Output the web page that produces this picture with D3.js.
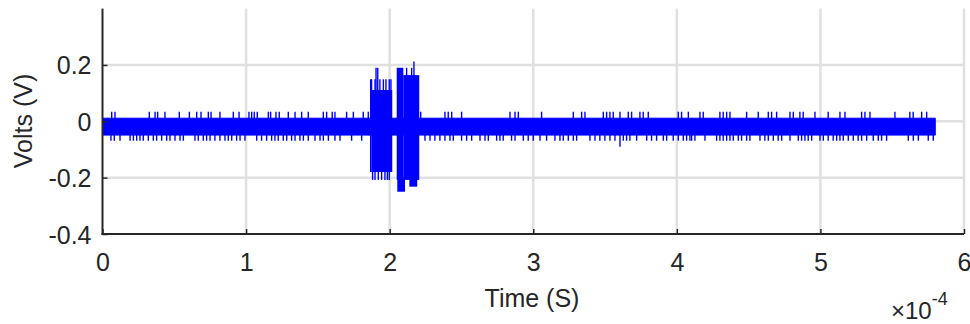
<!DOCTYPE html>
<html>
<head>
<meta charset="utf-8">
<script src="https://cdn.jsdelivr.net/npm/d3@7"></script>
<style>
  html, body { margin: 0; padding: 0; background: #fff; }
  svg { display: block; }
  text { font-family: "Liberation Sans", Arial, Helvetica, sans-serif; fill: #262626; }
</style>
</head>
<body>
<svg id="chart" width="970" height="324"></svg>
<script>
// ---- Data (time in units of 1e-4 s, voltage in V) ----
const xTicks = [0, 1, 2, 3, 4, 5, 6];
const yTicks = [-0.4, -0.2, 0, 0.2];
const yTickLabels = ["-0.4", "-0.2", "0", "0.2"];
const xLabel = "Time (S)";
const yLabel = "Volts (V)";

// steady noise band
const baseT  = [0, 5.80];
const baseLo = [-0.049, -0.049];
const baseHi = [0.011, 0.011];

// burst envelope segments: start, end, min, max
const burstT0 = [1.863, 1.875, 2.049, 2.095, 2.053, 2.137];
const burstT1 = [1.875, 2.018, 2.095, 2.206, 2.107, 2.192];
const burstLo = [-0.180, -0.180, -0.208, -0.208, -0.250, -0.232];
const burstHi = [0.149, 0.111, 0.190, 0.164, -0.200, -0.200];

// upward spikes of the noise band
const upSpikeT = [0.064, 0.087, 0.326, 0.366, 0.384, 0.435, 0.535, 0.605, 0.656, 0.686, 0.737, 0.756,
  0.818, 0.911, 0.951, 1.020, 1.039, 1.057, 1.078, 1.155, 1.171, 1.208, 1.231, 1.294, 1.341, 1.387,
  1.433, 1.538, 1.561, 1.600, 1.619, 1.700, 1.747, 1.816, 1.851,
  2.216, 2.385, 2.408, 2.432, 2.501, 2.838, 2.873, 2.896, 3.058, 3.279, 3.337, 3.360, 3.488, 3.511,
  3.534, 3.557, 3.604, 3.662, 3.685, 3.743, 3.766, 3.801, 4.010, 4.033, 4.080, 4.161, 4.184, 4.300,
  4.323, 4.347, 4.370, 4.486, 4.567, 4.637, 4.660, 4.695, 4.788, 4.811, 4.857, 4.880, 4.962, 5.054,
  5.136, 5.171, 5.287, 5.310, 5.345, 5.519, 5.623, 5.646, 5.705, 5.740];
const upSpikeV = 0.034;

// downward spikes of the noise band
const downSpikeT = [0.059, 0.082, 0.122, 0.192, 0.215, 0.238, 0.261, 0.284, 0.319, 0.354, 0.377, 0.412,
  0.447, 0.470, 0.505, 0.540, 0.563, 0.644, 0.667, 0.702, 0.725, 0.749, 0.783, 0.818, 0.853, 0.876,
  0.900, 0.934, 0.958, 0.992, 1.074, 1.108, 1.143, 1.178, 1.201, 1.224, 1.259, 1.283, 1.317, 1.341,
  1.375, 1.399, 1.433, 1.480, 1.515, 1.538, 1.573, 1.619, 1.654, 1.735, 1.805,
  2.246, 2.281, 2.315, 2.350, 2.385, 2.420, 2.443, 2.501, 2.536, 2.571, 2.629, 2.664, 2.687, 2.745,
  2.768, 2.791, 2.849, 2.873, 2.931, 2.965, 3.000, 3.047, 3.093, 3.151, 3.186, 3.209, 3.244, 3.279,
  3.302, 3.395, 3.430, 3.464, 3.499, 3.534, 3.569, 3.627, 3.650, 3.673, 3.720, 3.790, 3.824, 3.859,
  3.906, 3.929, 3.975, 4.010, 4.045, 4.068, 4.091, 4.103, 4.126, 4.196, 4.277, 4.300, 4.323, 4.347,
  4.370, 4.393, 4.428, 4.451, 4.486, 4.509, 4.579, 4.613, 4.637, 4.672, 4.706, 4.730, 4.788, 4.846,
  4.869, 4.892, 4.915, 4.939, 4.997, 5.020, 5.054, 5.089, 5.113, 5.136, 5.159, 5.194, 5.229, 5.263,
  5.287, 5.322, 5.368, 5.403, 5.426, 5.461, 5.612, 5.647, 5.682, 5.751, 5.786];
const downSpikeV = -0.069;
const deepSpikeT = [3.604];
const deepSpikeV = [-0.090];

// spikes inside the bursts
const burstSpikeT = [1.874, 1.898, 1.932, 1.956, 1.974, 1.997, 2.009, 1.905, 1.917,
  1.881, 1.898, 1.921, 1.944, 1.967, 1.984, 1.997, 2.118, 2.153, 2.169];
const burstSpikeV = [0.149, 0.149, 0.149, 0.149, 0.149, 0.149, 0.149, 0.190, 0.190,
  -0.208, -0.208, -0.208, -0.208, -0.208, -0.208, -0.208, 0.190, 0.190, 0.212];

// ---- Layout ----
const svg = d3.select("#chart");
const x = d3.scaleLinear().domain([0, 6]).range([102.5, 964]);
const y = d3.scaleLinear().domain([-0.4, 0.4]).range([234, 8.6]);
const fs = 25;
const axisColor = "#262626";
const gridColor = "#e0e0e0";
const blue = "#0000ff";

// grid
const grid = svg.append("g");
grid.selectAll("line.gx").data(xTicks.slice(1)).enter().append("line")
  .attr("x1", d => x(d)).attr("x2", d => x(d))
  .attr("y1", y(-0.4)).attr("y2", y(0.4))
  .attr("stroke", gridColor).attr("stroke-width", 2.5);
grid.selectAll("line.gy").data(yTicks.slice(1)).enter().append("line")
  .attr("x1", x(0)).attr("x2", x(6))
  .attr("y1", d => y(d)).attr("y2", d => y(d))
  .attr("stroke", gridColor).attr("stroke-width", 2.5);

// signal
const sig = svg.append("g");
const area = d3.area().x(d => x(d.t)).y0(d => y(d.lo)).y1(d => y(d.hi));
sig.append("path")
  .attr("d", area(baseT.map((t, i) => ({t, lo: baseLo[i], hi: baseHi[i]}))))
  .attr("fill", blue).attr("stroke", blue).attr("stroke-width", 1);

sig.selectAll("rect.burst").data(burstT0.map((t0, i) => ({t0, t1: burstT1[i], lo: burstLo[i], hi: burstHi[i]})))
  .enter().append("rect")
  .attr("x", d => x(d.t0)).attr("width", d => x(d.t1) - x(d.t0))
  .attr("y", d => y(d.hi)).attr("height", d => y(d.lo) - y(d.hi))
  .attr("fill", blue);

function spikes(ts, vs) {
  sig.append("g").selectAll("line").data(ts.map((t, i) => ({t, v: Array.isArray(vs) ? vs[i] : vs})))
    .enter().append("line")
    .attr("x1", d => x(d.t)).attr("x2", d => x(d.t))
    .attr("y1", y(0)).attr("y2", d => y(d.v))
    .attr("stroke", blue).attr("stroke-width", 1.4);
}
spikes(upSpikeT, upSpikeV);
spikes(downSpikeT, downSpikeV);
spikes(deepSpikeT, deepSpikeV);
spikes(burstSpikeT, burstSpikeV);

// axes
const axX = svg.append("g").attr("transform", `translate(0,${y(-0.4)})`)
  .call(d3.axisBottom(x).tickValues(xTicks).tickSizeInner(-5).tickSizeOuter(0).tickPadding(10).tickFormat(d3.format("d")));
const axY = svg.append("g").attr("transform", `translate(${x(0)},0)`)
  .call(d3.axisLeft(y).tickValues(yTicks).tickSizeInner(-5).tickSizeOuter(0).tickPadding(10)
    .tickFormat((d, i) => yTickLabels[i]));
[axX, axY].forEach(ax => {
  ax.select(".domain").attr("stroke", axisColor).attr("stroke-width", 2);
  ax.selectAll(".tick line").attr("stroke", axisColor).attr("stroke-width", 1.5);
  ax.selectAll(".tick text").attr("font-size", fs).attr("fill", axisColor)
    .style("font-family", '"Liberation Sans", Arial, sans-serif');
});
axX.select(".domain").attr("d", `M${x(0) - 1},0H${x(6)}`);
axY.select(".domain").attr("d", `M0,${y(0.4)}V${y(-0.4) + 1}`);
axX.selectAll(".tick text").attr("dy", "0.71em").attr("y", 19);
axY.selectAll(".tick text").attr("x", -11).attr("dy", "0.36em");

// labels
svg.append("text").attr("x", 532).attr("y", 307).attr("text-anchor", "middle")
  .attr("font-size", fs).text(xLabel);
svg.append("text").attr("transform", "translate(32,121) rotate(-90)").attr("text-anchor", "middle")
  .attr("font-size", fs).text(yLabel);
const ex = svg.append("text").attr("x", 891).attr("y", 319).attr("font-size", 24);
ex.append("tspan").text("×10");
ex.append("tspan").attr("font-size", 18).attr("dy", -14).text("-4");
</script>
</body>
</html>
